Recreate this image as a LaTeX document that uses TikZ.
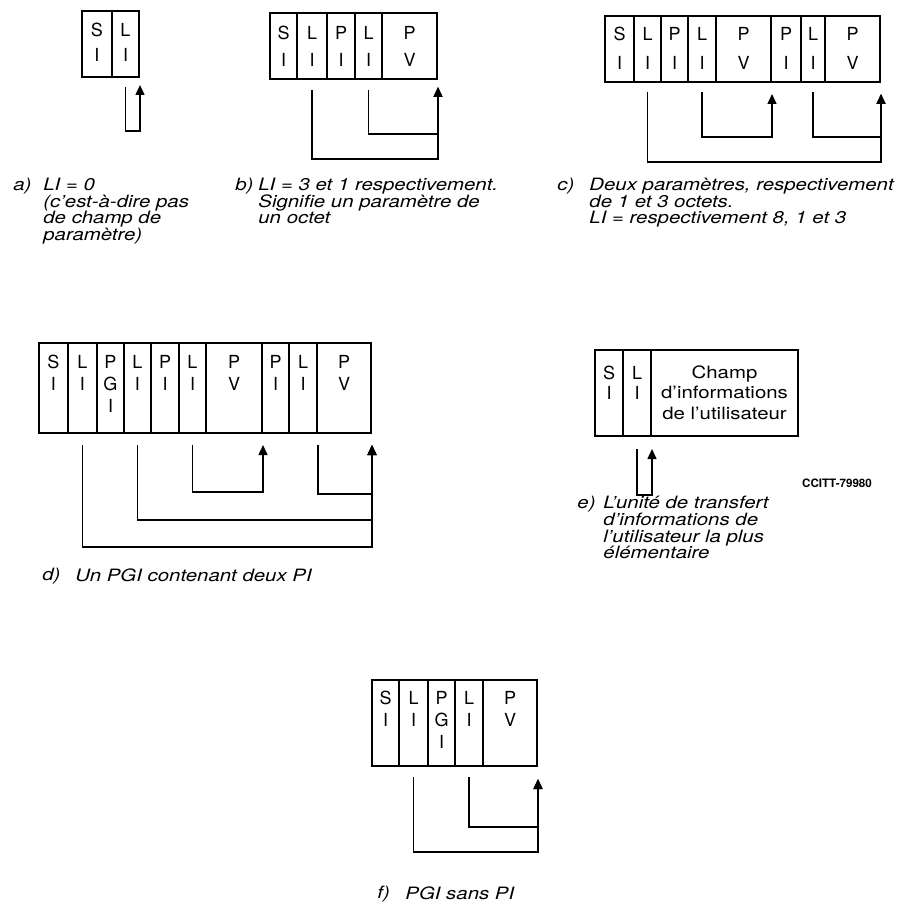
\documentclass[tikz,border=0pt]{standalone}
\usepackage{fontspec}
\setmainfont{TeX Gyre Heros}[FakeStretch=1.2]
\newfontfamily\cellfont{TeX Gyre Heros}
\usetikzlibrary{arrows.meta,calc,positioning}

\begin{document}
\begin{tikzpicture}[x=0.5pt,y=-0.5pt,
  cell/.style 2 args={draw,line width=1pt,anchor=north west,inner sep=0pt,
    minimum width=#1*0.5pt,minimum height=#2*0.5pt},
  letters/.style={anchor=north,inner sep=0pt,align=center,
    font=\cellfont\fontsize{9}{#1}\selectfont},
  letters/.default=12.5pt,
  captxt/.style={anchor=north west,inner sep=0pt,align=left,
    font=\fontsize{8.5}{8.3}\selectfont\itshape},
  lnk/.style={line width=0.75pt,-{Triangle[length=5pt,width=4.5pt]}}]
  \useasboundingbox (0,0) rectangle (901,903);

  % a) LI = 0
  \node[cell={30}{66}] (a1) at (81,10) {};
  \node[cell={27}{66}] (a2) at (111,10) {};
  \node[letters] (a1t) at ($(a1.north)+(0,13)$) {S\\I};
  \node[letters] (a2t) at ($(a2.north)+(0,13)$) {L\\I};
  \draw[lnk] ($(a2.south)+(0,9)$) -- ++(0,44) -| ($(a2.south east)+(0,7)$);
  \node[captxt] (taga) at (13,178) {a)};
  \node[captxt] (capa) at (43,178) {LI = 0\\(c’est-à-dire pas\\de champ de\\paramètre)};

  % b) un parametre
  \node[cell={27}{66}] (b1) at (269,12) {};
  \node[cell={30}{66}] (b2) at (296,12) {};
  \node[cell={28}{66}] (b3) at (326,12) {};
  \node[cell={27}{66}] (b4) at (354,12) {};
  \node[cell={55}{66}] (b5) at (381,12) {};
  \node[letters=13.5pt] (b1t) at ($(b1.north)+(0,14)$) {S\\I};
  \node[letters=13.5pt] (b2t) at ($(b2.north)+(0,14)$) {L\\I};
  \node[letters=13.5pt] (b3t) at ($(b3.north)+(0,14)$) {P\\I};
  \node[letters=13.5pt] (b4t) at ($(b4.north)+(0,14)$) {L\\I};
  \node[letters=13.5pt] (b5t) at ($(b5.north)+(0,14)$) {P\\V};
  \draw[lnk] ($(b4.south)+(0,10)$) -- ++(0,44) -| ($(b5.south east)+(0,7)$);
  \draw[lnk] ($(b2.south)+(0,10)$) -- ++(0,69) -| ($(b5.south east)+(0,7)$);
  \node[captxt] (tagb) at (235,178) {b)};
  \node[captxt] (capb) at (258,178) {LI = 3 et 1 respectivement.\\Signifie un paramètre de\\un octet};

  % c) deux parametres
  \node[cell={29}{66}] (c1) at (604,15) {};
  \node[cell={27}{66}] (c2) at (633,15) {};
  \node[cell={27}{66}] (c3) at (660,15) {};
  \node[cell={28}{66}] (c4) at (687,15) {};
  \node[cell={55}{66}] (c5) at (715,15) {};
  \node[cell={30}{66}] (c6) at (770,15) {};
  \node[cell={24}{66}] (c7) at (800,15) {};
  \node[cell={55}{66}] (c8) at (824,15) {};
  \node[letters=14.5pt] (c1t) at ($(c1.north)+(0,12)$) {S\\I};
  \node[letters=14.5pt] (c2t) at ($(c2.north)+(0,12)$) {L\\I};
  \node[letters=14.5pt] (c3t) at ($(c3.north)+(0,12)$) {P\\I};
  \node[letters=14.5pt] (c4t) at ($(c4.north)+(0,12)$) {L\\I};
  \node[letters=14.5pt] (c5t) at ($(c5.north)+(0,12)$) {P\\V};
  \node[letters=14.5pt] (c6t) at ($(c6.north)+(0,12)$) {P\\I};
  \node[letters=14.5pt] (c7t) at ($(c7.north)+(0,12)$) {L\\I};
  \node[letters=14.5pt] (c8t) at ($(c8.north)+(0,12)$) {P\\V};
  \draw[lnk] ($(c4.south)+(0,9)$) -- ++(0,45) -| ($(c5.south east)+(0,11)$);
  \draw[lnk] ($(c7.south)+(0,9)$) -- ++(0,45) -| ($(c8.south east)+(0,11)$);
  \draw[lnk] ($(c2.south)+(0,9)$) -- ++(0,70) -| ($(c8.south east)+(0,11)$);
  \node[captxt] (tagc) at (557,178) {c)};
  \node[captxt] (capc) at (589,178) {Deux paramètres, respectivement\\de 1 et 3 octets.\\LI = respectivement 8, 1 et 3};

  % d) PGI avec deux PI
  \node[cell={29}{90}] (d1) at (38,342) {};
  \node[cell={29}{90}] (d2) at (67,342) {};
  \node[cell={27}{90}] (d3) at (96,342) {};
  \node[cell={27}{90}] (d4) at (123,342) {};
  \node[cell={28}{90}] (d5) at (150,342) {};
  \node[cell={27}{90}] (d6) at (178,342) {};
  \node[cell={56}{90}] (d7) at (205,342) {};
  \node[cell={27}{90}] (d8) at (261,342) {};
  \node[cell={28}{90}] (d9) at (288,342) {};
  \node[cell={54}{90}] (d10) at (316,342) {};
  \node[letters=11pt] (d1t) at ($(d1.north)+(0,13)$) {S\\I};
  \node[letters=11pt] (d2t) at ($(d2.north)+(0,13)$) {L\\I};
  \node[letters=11pt] (d3t) at ($(d3.north)+(0,13)$) {P\\G\\I};
  \node[letters=11pt] (d4t) at ($(d4.north)+(0,13)$) {L\\I};
  \node[letters=11pt] (d5t) at ($(d5.north)+(0,13)$) {P\\I};
  \node[letters=11pt] (d6t) at ($(d6.north)+(0,13)$) {L\\I};
  \node[letters=11pt] (d7t) at ($(d7.north)+(0,13)$) {P\\V};
  \node[letters=11pt] (d8t) at ($(d8.north)+(0,13)$) {P\\I};
  \node[letters=11pt] (d9t) at ($(d9.north)+(0,13)$) {L\\I};
  \node[letters=11pt] (d10t) at ($(d10.north)+(0,13)$) {P\\V};
  \draw[lnk] ($(d6.south)+(0,11)$) -- ++(0,47) -| ($(d7.south east)+(0,11)$);
  \draw[lnk] ($(d9.south east)+(0,11)$) -- ++(0,49) -| ($(d10.south east)+(0,11)$);
  \draw[lnk] ($(d4.south)+(0,11)$) -- ++(0,75) -| ($(d10.south east)+(0,11)$);
  \draw[lnk] ($(d2.south)+(0,11)$) -- ++(0,102) -| ($(d10.south east)+(0,11)$);
  \node[captxt] (tagd) at (42,568) {d)};
  \node[captxt] (capd) at (75,568) {Un PGI contenant deux PI};

  % e) unite la plus simple
  \node[cell={28}{86}] (e1) at (594,349) {};
  \node[cell={28}{86}] (e2) at (622,349) {};
  \node[cell={147}{86}] (e3) at (650,349) {};
  \node[letters=10pt] (e1t) at ($(e1.north)+(0,17)$) {S\\I};
  \node[letters=10pt] (e2t) at ($(e2.north)+(0,17)$) {L\\I};
  \node[anchor=north,inner sep=0pt,align=center,font=\fontsize{8.5}{10.25}\selectfont]
    (e3t) at ($(e3.north)+(0,16)$) {Champ\\d’informations\\de l’utilisateur};
  \draw[lnk] ($(e2.south)+(0,12)$) -- ++(0,46) -| ($(e2.south east)+(0,12)$);
  \node[font=\cellfont\fontsize{5.8}{6}\selectfont\bfseries] (ccitt) at (837,483) {CCITT-79980};
  \node[captxt] (tage) at (577,496) {e)};
  \node[captxt] (cape) at (603,496) {L’unité de transfert\\d’informations de\\l’utilisateur la plus\\élémentaire};

  % f) PGI sans PI
  \node[cell={27}{86}] (f1) at (371,679) {};
  \node[cell={29}{86}] (f2) at (398,679) {};
  \node[cell={27}{86}] (f3) at (427,679) {};
  \node[cell={28}{86}] (f4) at (454,679) {};
  \node[cell={54}{86}] (f5) at (482,679) {};
  \node[letters=11pt] (f1t) at ($(f1.north)+(0,12)$) {S\\I};
  \node[letters=11pt] (f2t) at ($(f2.north)+(0,12)$) {L\\I};
  \node[letters=11pt] (f3t) at ($(f3.north)+(0,12)$) {P\\G\\I};
  \node[letters=11pt] (f4t) at ($(f4.north)+(0,12)$) {L\\I};
  \node[letters=11pt] (f5t) at ($(f5.north)+(0,12)$) {P\\V};
  \draw[lnk] ($(f4.south)+(0,10)$) -- ++(0,50) -| ($(f5.south east)+(0,12)$);
  \draw[lnk] ($(f2.south)+(0,10)$) -- ++(0,75) -| ($(f5.south east)+(0,12)$);
  \node[captxt] (tagf) at (377,886) {f)};
  \node[captxt] (capf) at (405,886) {PGI sans PI};
\end{tikzpicture}
\end{document}
